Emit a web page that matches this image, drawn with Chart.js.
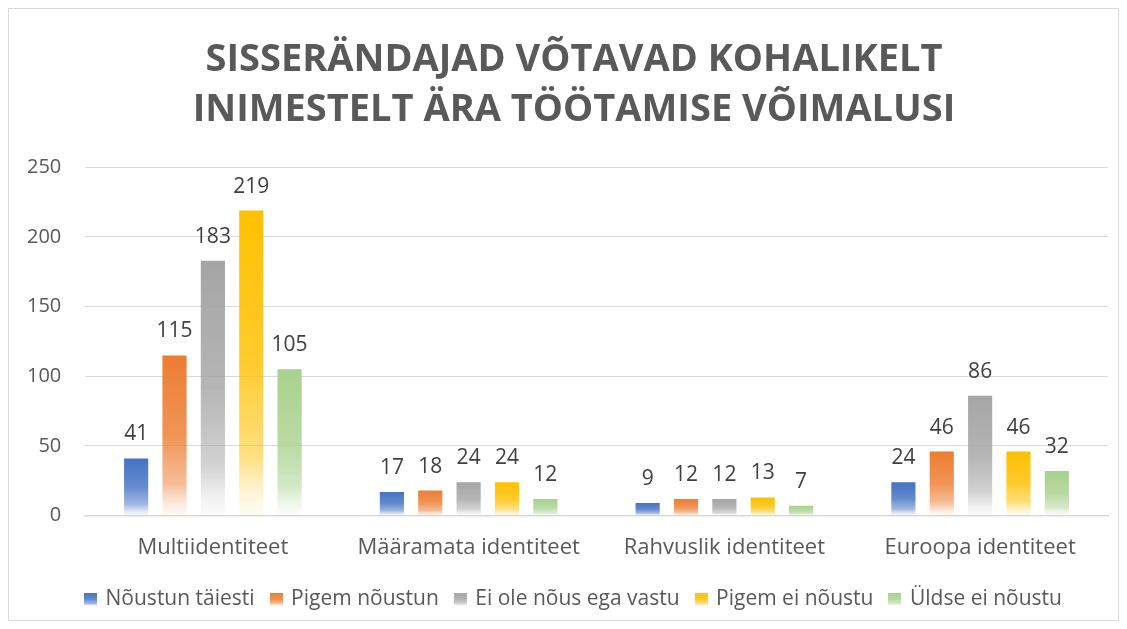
<!DOCTYPE html>
<html lang="et">
<head>
    <meta charset="UTF-8">
    <title>Sisserändajad võtavad kohalikelt inimestelt ära töötamise võimalusi</title>
    <script src="https://cdn.jsdelivr.net/npm/chart.js"></script>
    <style>
        body {
            margin: 0;
            background-color: #ffffff;
            font-family: "Open Sans", sans-serif;
        }
        .frame {
            position: absolute;
            left: 8px;
            top: 8px;
            width: 1109px;
            height: 611px;
            border: 1px solid #d9d9d9;
        }
        .chart-container {
            position: absolute;
            left: 0;
            top: 0;
            width: 1127px;
            height: 629px;
        }
    </style>
</head>
<body>
    <div class="frame"></div>
    <div class="chart-container">
        <canvas id="identityChart"></canvas>
    </div>

    <script>
        // Categories and series
        const categories = ['Multiidentiteet', 'Määramata identiteet', 'Rahvuslik identiteet', 'Euroopa identiteet'];
        const seriesNames = ['Nõustun täiesti', 'Pigem nõustun', 'Ei ole nõus ega vastu', 'Pigem ei nõustu', 'Üldse ei nõustu'];
        const noustunTaiesti = [41, 17, 9, 24];
        const pigemNoustun = [115, 18, 12, 46];
        const eiOleNousEgaVastu = [183, 24, 12, 86];
        const pigemEiNoustu = [219, 24, 13, 46];
        const uldseEiNoustu = [105, 12, 7, 32];
        const yTicks = [0, 50, 100, 150, 200, 250];

        const seriesValues = [noustunTaiesti, pigemNoustun, eiOleNousEgaVastu, pigemEiNoustu, uldseEiNoustu];
        const seriesColors = ['#4472C4', '#ED7D31', '#A5A5A5', '#FFC000', '#A9D18E'];

        const textColor = '#595959';
        const fontFamily = '"Open Sans", sans-serif';

        function rgba(hex, a) {
            const n = parseInt(hex.slice(1), 16);
            return `rgba(${(n >> 16) & 255}, ${(n >> 8) & 255}, ${n & 255}, ${a})`;
        }

        function addStops(g, color) {
            g.addColorStop(0, rgba(color, 1));
            g.addColorStop(0.5, rgba(color, 0.82));
            g.addColorStop(0.8, rgba(color, 0.5));
            g.addColorStop(0.93, rgba(color, 0.15));
            g.addColorStop(1, rgba(color, 0.04));
        }

        // gradient from the top of each bar down to its base
        function barGradient(context, color) {
            const chart = context.chart;
            if (context.type !== 'data' || !chart.chartArea) return color;
            const yScale = chart.scales.y;
            const top = yScale.getPixelForValue(context.raw);
            const base = yScale.getPixelForValue(0);
            if (base - top < 1) return color;
            const g = chart.ctx.createLinearGradient(0, top, 0, base);
            addStops(g, color);
            return g;
        }

        // small gradient squares for the legend
        function legendIcon(color) {
            const c = document.createElement('canvas');
            c.width = 13;
            c.height = 13;
            const cx = c.getContext('2d');
            const g = cx.createLinearGradient(0, 0, 0, 13);
            addStops(g, color);
            cx.fillStyle = g;
            cx.fillRect(0, 0, 13, 13);
            return c;
        }
        const legendIcons = seriesColors.map(legendIcon);

        const valueLabels = {
            id: 'valueLabels',
            afterDatasetsDraw(chart) {
                const ctx = chart.ctx;
                ctx.save();
                ctx.font = `21px ${fontFamily}`;
                ctx.fillStyle = '#404040';
                ctx.textAlign = 'center';
                ctx.textBaseline = 'alphabetic';
                chart.data.datasets.forEach((ds, i) => {
                    chart.getDatasetMeta(i).data.forEach((bar, j) => {
                        ctx.fillText(String(ds.data[j]), bar.x, bar.y - 18);
                    });
                });
                ctx.restore();
            }
        };

        new Chart(document.getElementById('identityChart'), {
            type: 'bar',
            data: {
                labels: categories,
                datasets: seriesNames.map((name, i) => ({
                    label: name,
                    data: seriesValues[i],
                    backgroundColor: (context) => barGradient(context, seriesColors[i]),
                    borderWidth: 0,
                    categoryPercentage: 0.75,
                    barPercentage: 0.63
                }))
            },
            options: {
                responsive: true,
                maintainAspectRatio: false,
                animation: false,
                layout: {
                    padding: { left: 40, right: 19, top: 20, bottom: 9 }
                },
                plugins: {
                    title: {
                        display: true,
                        text: ['SISSERÄNDAJAD VÕTAVAD KOHALIKELT', 'INIMESTELT ÄRA TÖÖTAMISE VÕIMALUSI'],
                        color: textColor,
                        font: { family: fontFamily, size: 38, weight: 'bold', lineHeight: 1.32 },
                        padding: { top: 15, bottom: 32 }
                    },
                    legend: {
                        position: 'bottom',
                        labels: {
                            color: textColor,
                            font: { family: fontFamily, size: 21 },
                            usePointStyle: true,
                            boxWidth: 9,
                            boxHeight: 13,
                            padding: 17,
                            generateLabels(chart) {
                                return Chart.defaults.plugins.legend.labels.generateLabels(chart)
                                    .map((item, i) => Object.assign(item, { pointStyle: legendIcons[i] }));
                            }
                        }
                    },
                    tooltip: { enabled: false }
                },
                scales: {
                    x: {
                        grid: { display: false },
                        border: { display: true, color: '#d9d9d9', width: 1.5 },
                        ticks: {
                            color: textColor,
                            font: { family: fontFamily, size: 22 },
                            padding: 11
                        }
                    },
                    y: {
                        min: 0,
                        max: 250,
                        afterBuildTicks(axis) {
                            axis.ticks = yTicks.map(v => ({ value: v }));
                        },
                        // narrow axis box; labels are mirrored back out into the left margin
                        afterFit(axis) {
                            axis.width = 45;
                        },
                        grid: { color: '#d9d9d9', drawTicks: false },
                        border: { display: false },
                        ticks: {
                            color: textColor,
                            font: { family: fontFamily, size: 20 },
                            mirror: true,
                            crossAlign: 'far',
                            padding: -58
                        }
                    }
                }
            },
            plugins: [valueLabels]
        });
    </script>
</body>
</html>
